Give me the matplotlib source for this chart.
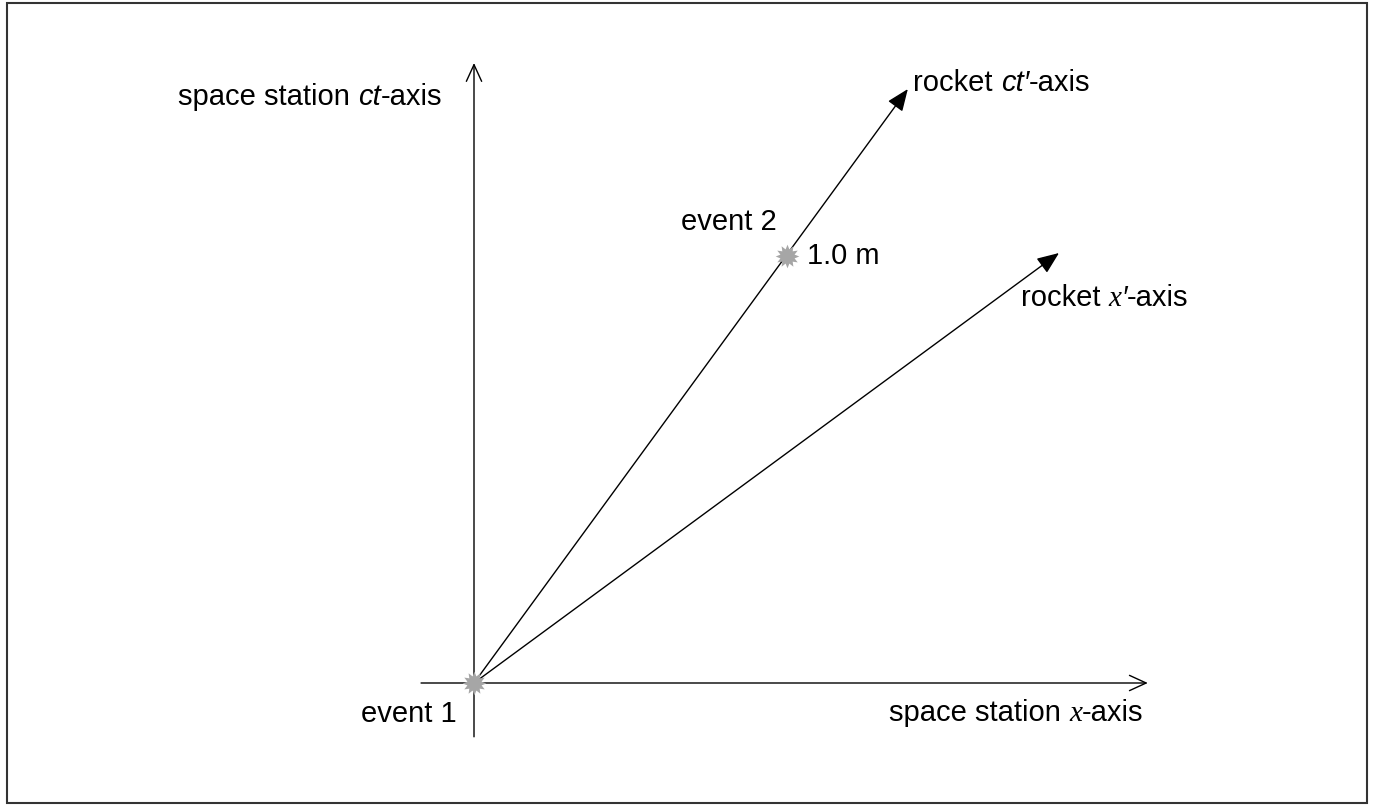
import matplotlib
matplotlib.use("Agg")
import matplotlib.pyplot as plt
from matplotlib.path import Path
from matplotlib.patches import Rectangle
from matplotlib.transforms import offset_copy

# ---- data (units: metres, space-station frame) ----
ct_axis_x = [0.0, 0.0]
ct_axis_ct = [-0.126, 1.452]
x_axis_x = [-0.124, 1.578]
x_axis_ct = [0.0, 0.0]
ctp_axis_end = (1.016, 1.391)   # rocket ct'-axis tip
xp_axis_end = (1.370, 1.007)    # rocket x'-axis tip
events_x = [0.0, 0.733]
events_ct = [0.0, 1.0]
event_labels = ["event 1", "event 2"]
event2_value = "1.0 m"

W, H = 1375, 805
PX = 427.0  # pixels per metre
ORIGIN = (474, 683)  # pixel position of origin (from top-left)

fig = plt.figure(figsize=(W / 100, H / 100), dpi=100)
ax = fig.add_axes([0, 0, 1, 1])
ax.set_xlim(-ORIGIN[0] / PX, (W - ORIGIN[0]) / PX)
ax.set_ylim(-(H - ORIGIN[1]) / PX, ORIGIN[1] / PX)
ax.axis("off")

FS = 21
SANS = ["Liberation Sans", "DejaVu Sans"]
SERIF = ["Liberation Serif", "DejaVu Serif"]
LW = 1.0

# border
fig.patches.append(Rectangle((7 / W, 2 / H), 1360 / W, 800 / H, transform=fig.transFigure,
                             fill=False, edgecolor="#333333", linewidth=1.5, zorder=0))

open_head = dict(arrowstyle="->,head_length=1.2,head_width=0.55", lw=LW, color="black",
                 shrinkA=0, shrinkB=0, mutation_scale=10)
filled_head = dict(arrowstyle="-|>,head_length=1.35,head_width=0.55", lw=LW, color="black",
                   shrinkA=0, shrinkB=0, mutation_scale=10)

# space station axes
ax.annotate("", xy=(ct_axis_x[1], ct_axis_ct[1]), xytext=(ct_axis_x[0], ct_axis_ct[0]),
            arrowprops=open_head)
ax.annotate("", xy=(x_axis_x[1], x_axis_ct[1]), xytext=(x_axis_x[0], x_axis_ct[0]),
            arrowprops=open_head)
# rocket axes
ax.annotate("", xy=ctp_axis_end, xytext=(events_x[0], events_ct[0]), arrowprops=filled_head)
ax.annotate("", xy=xp_axis_end, xytext=(events_x[0], events_ct[0]), arrowprops=filled_head)

# events
star = Path.unit_regular_star(12, 0.62)
ax.plot(events_x, events_ct, linestyle="none", marker=star, markersize=17,
        color="#A6A6A6", markeredgewidth=0, zorder=5)

renderer = fig.canvas.get_renderer()


def rich(x, y, pieces, ha="left"):
    """Place text pieces one after another, baseline at (x, y) in data coords."""
    texts = []
    widths = []
    for s, kw in pieces:
        t = ax.text(x, y, s, fontsize=FS, va="baseline", ha="left", **kw)
        widths.append(t.get_window_extent(renderer).width)
        texts.append(t)
    total = sum(widths)
    start = 0 if ha == "left" else -total
    off = start
    for t, w in zip(texts, widths):
        t.set_transform(offset_copy(ax.transData, fig=fig, x=off, y=0, units="dots"))
        off += w


def d(px, py):
    return ((px - ORIGIN[0]) / PX, (ORIGIN[1] - py) / PX)


sans = dict(family=SANS)
sans_it = dict(family=SANS, style="italic")
serif_it = dict(family=SERIF, style="italic")

rich(*d(178, 105), [("space station ", sans), ("ct", sans_it), ("-axis", sans)])
rich(*d(913, 91), [("rocket ", sans), ("ct\u2032", sans_it), ("-axis", sans)])
rich(*d(1021, 306), [("rocket ", sans), ("x", serif_it), ("\u2032", sans_it), ("-axis", sans)])
rich(*d(889, 721), [("space station ", sans), ("x", serif_it), ("-axis", sans)])

ex1 = (events_x[0] - 17 / PX, events_ct[0] - 39 / PX)
ax.text(ex1[0], ex1[1], event_labels[0], fontsize=FS, family=SANS, ha="right", va="baseline")
ex2 = (events_x[1] - 10 / PX, events_ct[1] + 26 / PX)
ax.text(ex2[0], ex2[1], event_labels[1], fontsize=FS, family=SANS, ha="right", va="baseline")
ax.text(events_x[1] + 20 / PX, events_ct[1] - 8 / PX, event2_value, fontsize=FS, family=SANS,
        ha="left", va="baseline")

fig.savefig("out.png", dpi=100)
